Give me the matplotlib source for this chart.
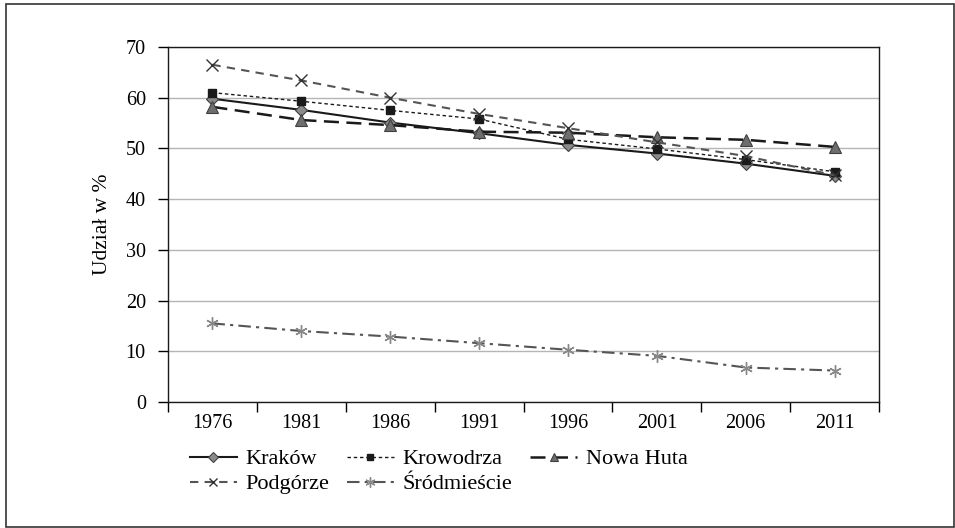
import matplotlib
matplotlib.use("Agg")
import matplotlib.pyplot as plt
from matplotlib.patches import Rectangle

plt.rcParams['font.family'] = ['Liberation Serif', 'DejaVu Serif']

years = ["1976", "1981", "1986", "1991", "1996", "2001", "2006", "2011"]
krakow = [59.8, 57.6, 55.1, 53.0, 50.7, 49.0, 47.0, 44.6]
krowodrza = [61.0, 59.3, 57.5, 55.8, 51.8, 49.9, 47.8, 45.4]
nowa_huta = [58.2, 55.6, 54.6, 53.3, 53.1, 52.2, 51.7, 50.3]
podgorze = [66.5, 63.4, 60.0, 56.8, 54.0, 51.2, 48.5, 44.7]
srodmiescie = [15.5, 14.0, 12.9, 11.6, 10.3, 9.1, 6.8, 6.2]
y_ticks = [0, 10, 20, 30, 40, 50, 60, 70]
y_label = "Udział w %"

FS = 14.5

fig = plt.figure(figsize=(9.55, 5.28), dpi=100)
ax = fig.add_axes([168/955, 1 - 402/528, (879-168)/955, (402-47)/528])

x = list(range(len(years)))

h_kr, = ax.plot(x, krakow, color='#1a1a1a', lw=1.5, ls='-', marker='D', ms=6,
                mfc='#8a8a8a', mec='#404040', mew=0.8, label='Kraków', zorder=5)
h_kw, = ax.plot(x, krowodrza, color='#1a1a1a', lw=1.0, ls=(0, (2.5, 2)), marker='s', ms=6,
                mfc='#1a1a1a', mec='#1a1a1a', label='Krowodrza', zorder=5)
h_nh, = ax.plot(x, nowa_huta, color='#1a1a1a', lw=1.8, ls=(0, (6, 3)), marker='^', ms=8,
                mfc='#6e6e6e', mec='#404040', mew=0.8, label='Nowa Huta', zorder=5)
h_pg, = ax.plot(x, podgorze, color='#555555', lw=1.5, ls=(0, (4, 3)), marker='x', ms=8,
                mec='#333333', mew=1.0, label='Podgórze', zorder=5)
h_sr, = ax.plot(x, srodmiescie, color='#555555', lw=1.5, ls=(0, (6, 2.5, 1.5, 2.5)),
                marker=(6, 2, 0), ms=9, mec='#888888', mew=1.0, label='Śródmieście', zorder=5)

ax.set_xlim(-0.5, len(years) - 0.5)
ax.set_ylim(0, 70)
ax.set_yticks(y_ticks)
ax.set_yticklabels([str(v) for v in y_ticks])
ax.set_xticks(x)
ax.set_xticklabels(years)
ax.set_xticks([i - 0.5 for i in range(len(years) + 1)], minor=True)
ax.tick_params(axis='x', which='major', length=0, pad=9, labelsize=FS)
ax.tick_params(axis='x', which='minor', length=7, width=1, direction='out')
ax.tick_params(axis='y', length=7, width=1, direction='out', pad=9, labelsize=FS)
ax.yaxis.grid(True, color='#b5b5b5', lw=1.0)
ax.set_axisbelow(True)
for s in ax.spines.values():
    s.set_linewidth(1.0)
    s.set_color('#1a1a1a')
ax.set_ylabel(y_label, fontsize=15.5, labelpad=10)

handles = [h_kr, h_pg, h_kw, h_sr, h_nh]
labels = [h.get_label() for h in handles]
leg = fig.legend(handles, labels, loc='upper left', bbox_to_anchor=(181/955, 1 - 440/528), ncol=3,
                 frameon=False, fontsize=16, handlelength=2.1, handletextpad=0.4,
                 columnspacing=0.8, labelspacing=0.2, borderaxespad=0, markerscale=0.8)

fig.patches.append(Rectangle((6/955, 1/528), (954-6)/955, (524-1)/528,
                             transform=fig.transFigure, fill=False,
                             edgecolor='#333333', lw=1.2))

fig.savefig("out.png", dpi=100)
